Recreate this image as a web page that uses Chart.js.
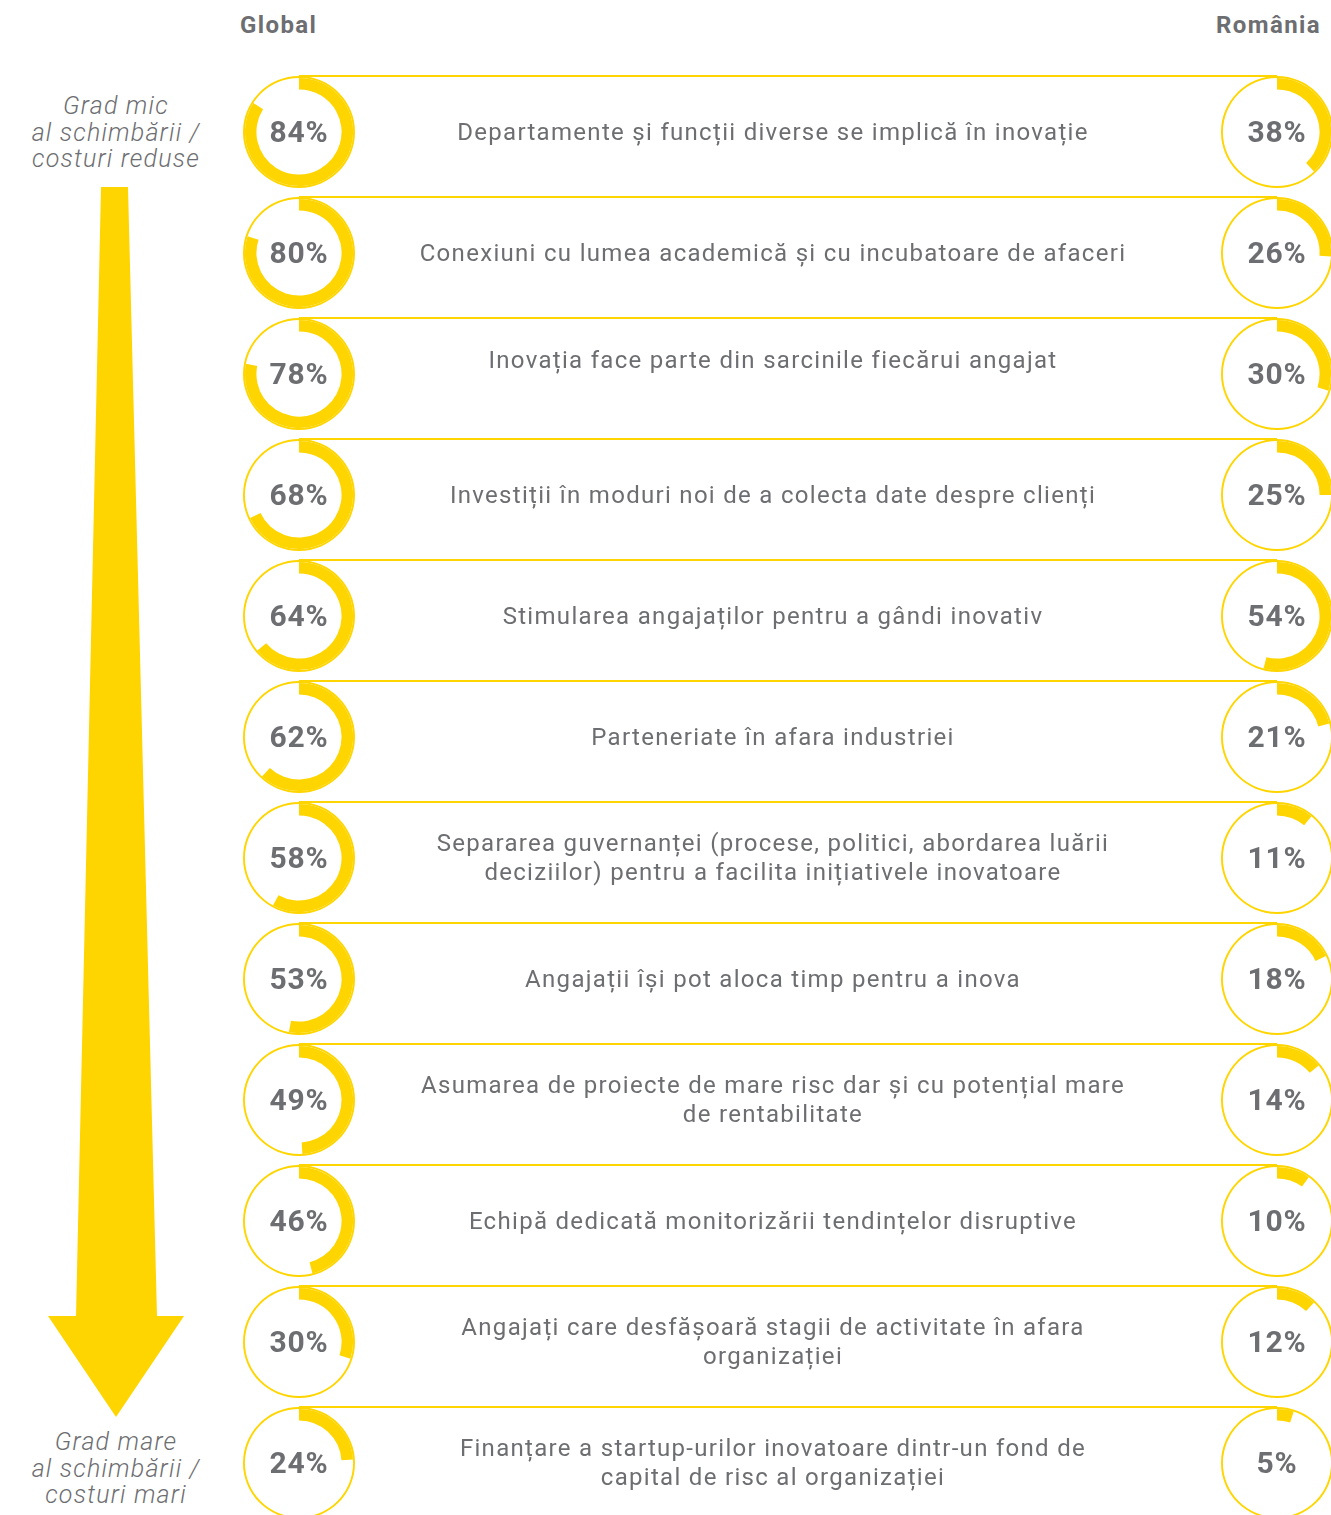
<!DOCTYPE html>
<html>
<head>
<meta charset="utf-8">
<script src="https://cdn.jsdelivr.net/npm/chart.js@4.4.1/dist/chart.umd.min.js"></script>
<style>
    html, body { margin: 0; padding: 0; background: #fff; overflow: hidden; }
    body { width: 1331px; height: 1515px; position: relative; font-family: Roboto, "Open Sans", sans-serif; color: #6d6e71; }
    .hdr { position: absolute; top: 11px; font-weight: bold; font-size: 24px; letter-spacing: 1.4px; color: #6d6e71; }
    .rule { position: absolute; height: 2px; background: #FFD500; }
    .ring { position: absolute; }
    .pct { position: absolute; width: 112px; text-align: center; font-weight: bold; font-size: 30px; letter-spacing: 0.8px; line-height: 30px; color: #6d6e71; }
    .lbl { position: absolute; left: 273px; width: 1000px; text-align: center; font-size: 24px; letter-spacing: 1.3px; line-height: 29px; color: #6d6e71; }
    .side { position: absolute; left: 0; width: 232px; text-align: center; font-style: italic; font-weight: 300; font-size: 25px; letter-spacing: 1.2px; line-height: 26.5px; color: #6d6e71; }
    #arrow { position: absolute; left: 0; top: 0; width: 240px; height: 1515px; background: #FFD500;
        clip-path: polygon(101px 187px, 128px 187px, 157px 1316px, 184px 1316px, 116px 1417px, 48px 1316px, 76px 1316px); }
</style>
</head>
<body>
<div class="hdr" style="left:240px">Global</div>
<div class="hdr" style="right:10px">România</div>
<div id="arrow"></div>
<div class="side" style="top:93px">Grad mic<br>al schimbării /<br>costuri reduse</div>
<div class="side" style="top:1429px">Grad mare<br>al schimbării /<br>costuri mari</div>
<div id="rows"></div>

<script>
// Data
const categories = [
    ['Departamente și funcții diverse se implică în inovație'],
    ['Conexiuni cu lumea academică și cu incubatoare de afaceri'],
    ['Inovația face parte din sarcinile fiecărui angajat'],
    ['Investiții în moduri noi de a colecta date despre clienți'],
    ['Stimularea angajaților pentru a gândi inovativ'],
    ['Parteneriate în afara industriei'],
    ['Separarea guvernanței (procese, politici, abordarea luării', 'deciziilor) pentru a facilita inițiativele inovatoare'],
    ['Angajații își pot aloca timp pentru a inova'],
    ['Asumarea de proiecte de mare risc dar și cu potențial mare', 'de rentabilitate'],
    ['Echipă dedicată monitorizării tendințelor disruptive'],
    ['Angajați care desfășoară stagii de activitate în afara', 'organizației'],
    ['Finanțare a startup-urilor inovatoare dintr-un fond de', 'capital de risc al organizației']
];
const globalValues = [84, 80, 78, 68, 64, 62, 58, 53, 49, 46, 30, 24];
const romaniaValues = [38, 26, 30, 25, 54, 21, 11, 18, 14, 10, 12, 5];

const YELLOW = '#FFD500';
const ROW_TOP = 132;
const ROW_STEP = 121;
const GLOBAL_X = 299;
const ROMANIA_X = 1277;
const SIZE = 114;

const rows = document.getElementById('rows');

function addRing(cx, cy, value) {
    const canvas = document.createElement('canvas');
    canvas.className = 'ring';
    canvas.width = SIZE;
    canvas.height = SIZE;
    canvas.style.left = (cx - SIZE / 2) + 'px';
    canvas.style.top = (cy - SIZE / 2) + 'px';
    rows.appendChild(canvas);

    new Chart(canvas.getContext('2d'), {
        type: 'doughnut',
        data: {
            datasets: [
                // thin outline circle
                { data: [100], backgroundColor: [YELLOW], borderWidth: 0, weight: 1 },
                // value arc
                { data: [value, 100 - value], backgroundColor: [YELLOW, 'rgba(0,0,0,0)'], borderWidth: 0, weight: 6 }
            ]
        },
        options: {
            responsive: false,
            animation: false,
            cutout: '76%',
            layout: { padding: 1 },
            plugins: { legend: { display: false }, tooltip: { enabled: false } }
        }
    });

    const pct = document.createElement('div');
    pct.className = 'pct';
    pct.textContent = value + '%';
    pct.style.left = (cx - 56) + 'px';
    pct.style.top = (cy - 15) + 'px';
    rows.appendChild(pct);
}

categories.forEach((lines, i) => {
    const cy = ROW_TOP + i * ROW_STEP;

    const rule = document.createElement('div');
    rule.className = 'rule';
    rule.style.left = GLOBAL_X + 'px';
    rule.style.width = (ROMANIA_X - GLOBAL_X) + 'px';
    rule.style.top = (cy - 57) + 'px';
    rows.appendChild(rule);

    addRing(GLOBAL_X, cy, globalValues[i]);
    addRing(ROMANIA_X, cy, romaniaValues[i]);

    const lbl = document.createElement('div');
    lbl.className = 'lbl';
    lbl.innerHTML = lines.join('<br>');
    // the third label sits a little higher in the original
    const shift = i === 2 ? -14 : 0;
    lbl.style.top = (cy - lines.length * 29 / 2 + shift) + 'px';
    rows.appendChild(lbl);
});
</script>
</body>
</html>
